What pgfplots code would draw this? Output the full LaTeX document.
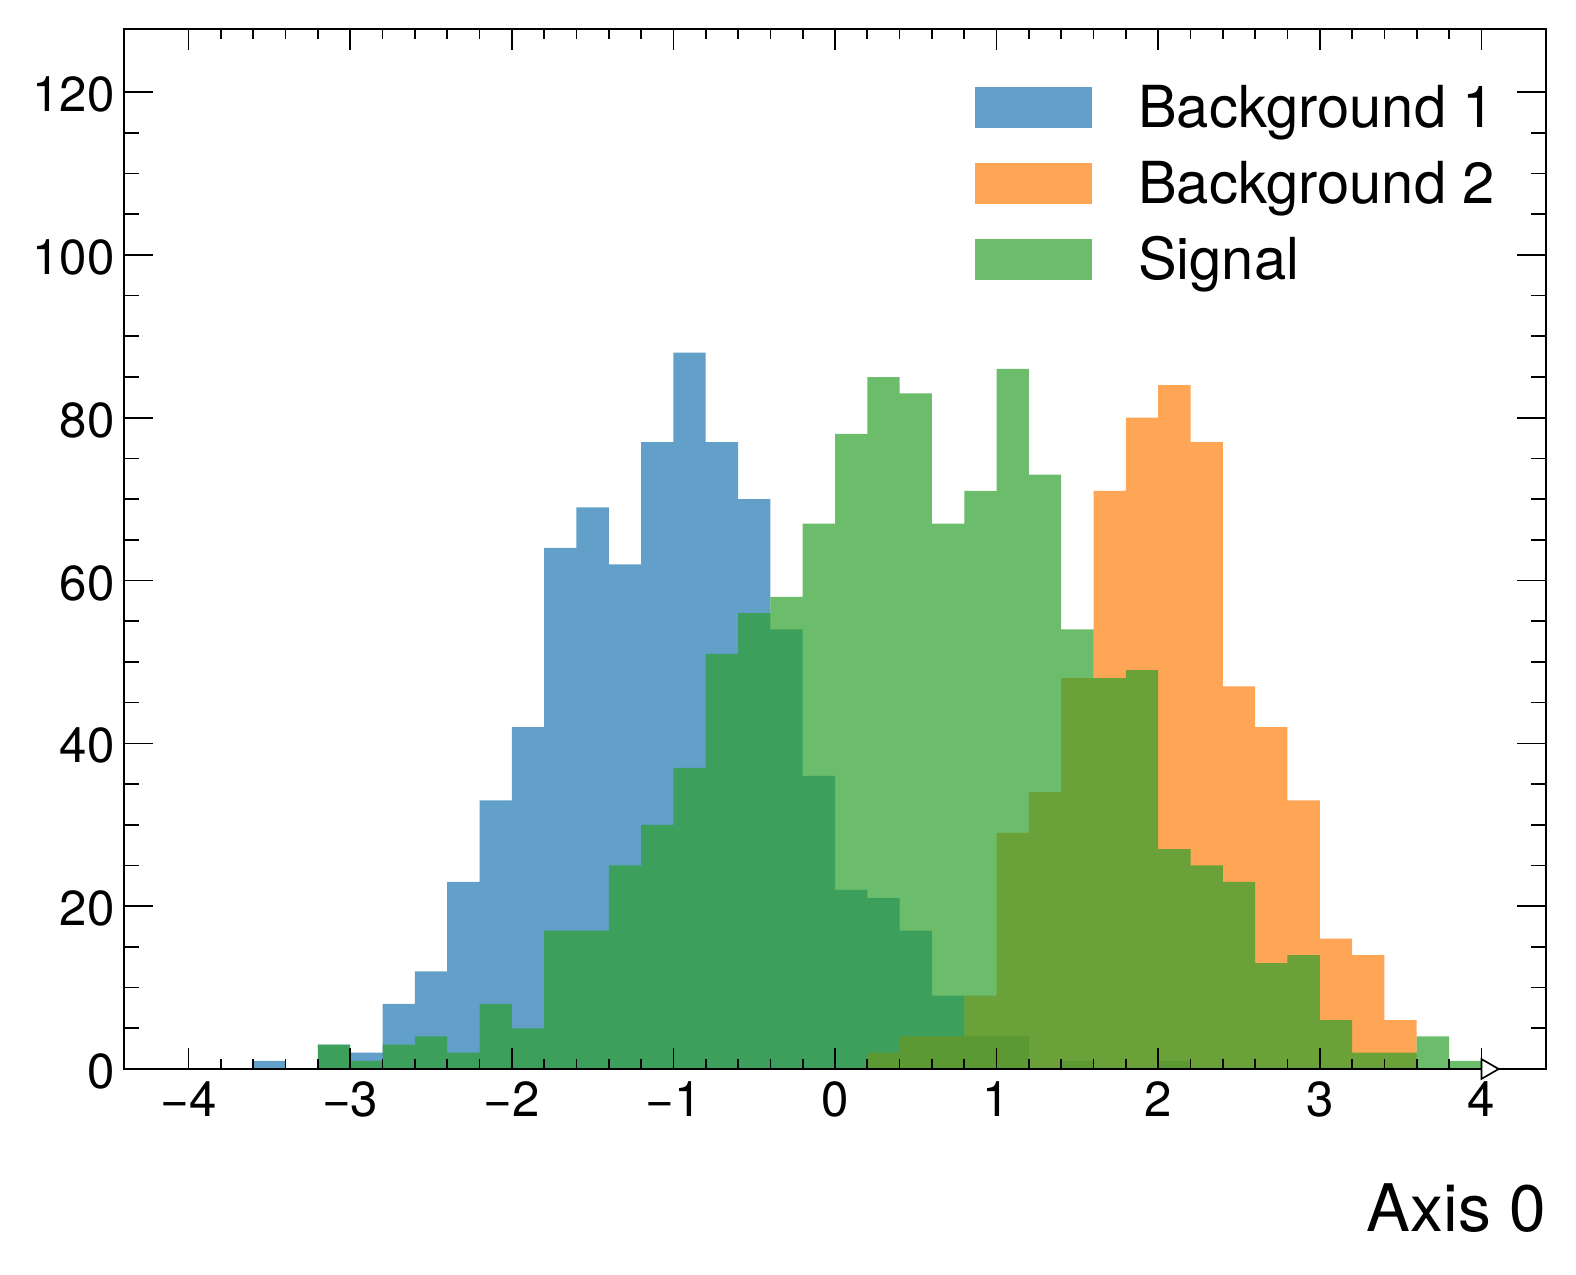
\documentclass[border=0pt]{standalone}
\usepackage{fontspec}
\setmainfont{TeX Gyre Heros}
\usepackage{pgfplots}
\usepackage{pgfplotstable}
\pgfplotsset{compat=1.18}
\usetikzlibrary{plotmarks}
\definecolor{cZero}{HTML}{1F77B4}
\definecolor{cOne}{HTML}{FF7F0E}
\definecolor{cTwo}{HTML}{2CA02C}

% left bin edge, Background 1, Background 2, Signal (bins of width 0.2)
\pgfplotstableread{
x    bone btwo sig
-4.0 0  0  0
-3.8 0  0  0
-3.6 1  0  0
-3.4 0  0  0
-3.2 3  0  3
-3.0 2  0  1
-2.8 8  0  3
-2.6 12 0  4
-2.4 23 0  2
-2.2 33 0  8
-2.0 42 0  5
-1.8 64 0  17
-1.6 69 0  17
-1.4 62 0  25
-1.2 77 0  30
-1.0 88 0  37
-0.8 77 0  51
-0.6 70 0  56
-0.4 54 0  58
-0.2 36 0  67
0.0  22 0  78
0.2  21 2  85
0.4  17 4  83
0.6  9  4  67
0.8  4  9  71
1.0  4  29 86
1.2  0  34 73
1.4  1  48 54
1.6  0  71 48
1.8  0  80 49
2.0  1  84 27
2.2  0  77 25
2.4  0  47 23
2.6  0  42 13
2.8  0  33 14
3.0  0  16 6
3.2  0  14 2
3.4  0  6  2
3.6  0  0  4
3.8  0  0  1
4.0  0  0  1
}\histdata

\begin{document}
\begin{tikzpicture}
\pgfplotsset{
  common/.style={
    scale only axis, width=682.56pt, height=499.2pt,
    xmin=-4.4, xmax=4.4, ymin=0, ymax=127.75,
    at={(0,0)}, anchor=south west,
    clip=false,
    tick style={line width=0.8pt, black},
  }
}
\path (-59.52pt,-98.88pt) rectangle (696.96pt,513.12pt);
\begin{axis}[common,
  axis on top,
  axis line style={line width=0.8pt, black},
  xtick={-4,-3,-2,-1,0,1,2,3,4},
  xticklabels={−4,−3,−2,−1,0,1,2,3,4},
  minor x tick num=4,
  xtick pos=both, xticklabel pos=lower,
  major tick length=10pt, minor tick length=5pt,
  ytick=\empty,
  xticklabel style={font=\fontsize{23.6}{28}\selectfont, anchor=base, inner sep=0pt, yshift=-23pt},
  xlabel={Axis 0},
  xlabel style={at={(axis description cs:1,0)}, anchor=base east, inner sep=0pt, yshift=-77.8pt, font=\fontsize{31.5}{36}\selectfont},
]
\addplot[const plot mark left, draw=none, fill=cZero, fill opacity=0.7] table[x=x, y=bone] {\histdata} \closedcycle;
\addplot[const plot mark left, draw=none, fill=cOne, fill opacity=0.7] table[x=x, y=btwo] {\histdata} \closedcycle;
\addplot[const plot mark left, draw=none, fill=cTwo, fill opacity=0.7] table[x=x, y=sig] {\histdata} \closedcycle;
\end{axis}
\begin{axis}[common,
  axis line style={draw=none},
  xtick=\empty,
  ytick={0,20,40,60,80,100,120},
  yticklabels={0,20,40,60,80,100,120},
  minor y tick num=3,
  ytick pos=both, yticklabel pos=left,
  major tick length=14pt, minor tick length=7pt,
  yticklabel style={font=\fontsize{23.6}{28}\selectfont, anchor=east, inner sep=0pt, xshift=-4.3pt, yshift=-1.2pt},
]
\addplot[only marks, mark=triangle*, mark size=5.5pt, mark options={rotate=-90, fill=white, draw=black, line width=0.8pt}] coordinates {(4.036,0)};
\end{axis}
% legend
\fill[cZero, fill opacity=0.7] (408.5pt,451.68pt) rectangle (464.7pt,471.4pt);
\fill[cOne, fill opacity=0.7] (408.5pt,415.36pt) rectangle (464.7pt,435.08pt);
\fill[cTwo, fill opacity=0.7] (408.5pt,378.88pt) rectangle (464.7pt,398.6pt);
\begin{scope}[every node/.style={anchor=base west, inner sep=0pt, font=\fontsize{27.8}{33}\selectfont}]
\node at (486.6pt,451.68pt) {Background 1};
\node at (486.6pt,415.36pt) {Background 2};
\node at (486.6pt,378.88pt) {Signal};
\end{scope}
\end{tikzpicture}
\end{document}
